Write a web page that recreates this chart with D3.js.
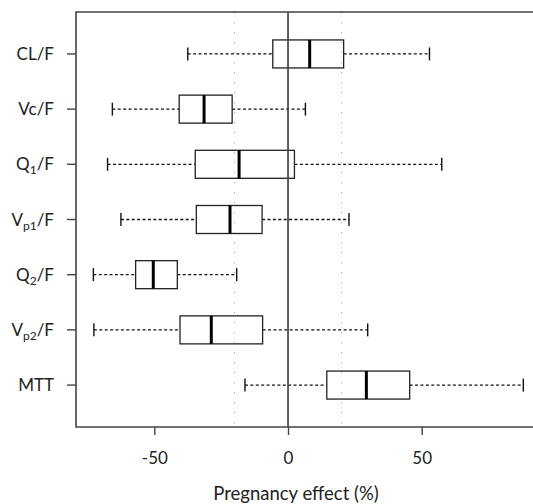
<!DOCTYPE html>
<html>
<head>
<meta charset="utf-8">
<script src="https://cdn.jsdelivr.net/npm/d3@7"></script>
<style>
  body { margin: 0; background: #fff; }
  text { font-family: Lato, "Open Sans", sans-serif; fill: #222; }
</style>
</head>
<body>
<svg id="chart"></svg>
<script>
// Parameters (top to bottom), label pieces for subscripts
const labelBase = ["CL", "Vc", "Q", "V", "Q", "V", "MTT"];
const labelSub  = ["", "", "1", "p1", "2", "p2", ""];
const labelTail = ["/F", "/F", "/F", "/F", "/F", "/F", ""];

// Box statistics, pregnancy effect (%)
const whiskerLow  = [-37.5, -65.7, -67.5, -62.5, -72.8, -72.6, -16.1];
const q1          = [-5.7, -40.7, -34.7, -34.3, -57.0, -40.4, 14.5];
const median      = [8.1, -31.4, -18.3, -21.7, -50.4, -28.7, 29.3];
const q3          = [20.8, -20.9, 2.4, -9.7, -41.4, -9.5, 45.5];
const whiskerHigh = [52.9, 6.5, 57.5, 22.8, -19.2, 29.8, 88.0];

const xTicks = [-50, 0, 50];
const refLines = [-20, 20];

const width = 533, height = 504;
const plot = {left: 76, top: 12, bottom: 427, right: 534};

const svg = d3.select("#chart")
    .attr("width", width)
    .attr("height", height);

const rows = d3.range(labelBase.length);

const x = d3.scaleLinear()
    .domain([-79.3, 92])
    .range([plot.left, plot.right]);

const y = d3.scalePoint()
    .domain(rows)
    .range([plot.top, plot.bottom])
    .padding(0.76);

const boxH = 28;
const capH = 13;

// Dotted reference lines at +/-20 %
svg.selectAll("line.ref")
    .data(refLines)
    .enter().append("line")
    .attr("class", "ref")
    .attr("x1", d => x(d)).attr("x2", d => x(d))
    .attr("y1", plot.top).attr("y2", plot.bottom)
    .style("stroke", "#9a9a9a")
    .style("stroke-width", 1)
    .style("stroke-dasharray", "1.2,8.8");

const g = svg.selectAll("g.row")
    .data(rows)
    .enter().append("g")
    .attr("class", "row")
    .attr("transform", i => "translate(0," + y(i) + ")");

// Whiskers
g.append("line")
    .attr("x1", i => x(whiskerLow[i])).attr("x2", i => x(q1[i]))
    .style("stroke", "#111").style("stroke-width", 1.3)
    .style("stroke-dasharray", "3,2.4");
g.append("line")
    .attr("x1", i => x(q3[i])).attr("x2", i => x(whiskerHigh[i]))
    .style("stroke", "#111").style("stroke-width", 1.3)
    .style("stroke-dasharray", "3,2.4");

// Staples
g.append("line")
    .attr("x1", i => x(whiskerLow[i])).attr("x2", i => x(whiskerLow[i]))
    .attr("y1", -capH / 2).attr("y2", capH / 2)
    .style("stroke", "#111").style("stroke-width", 1.4);
g.append("line")
    .attr("x1", i => x(whiskerHigh[i])).attr("x2", i => x(whiskerHigh[i]))
    .attr("y1", -capH / 2).attr("y2", capH / 2)
    .style("stroke", "#111").style("stroke-width", 1.4);

// Boxes
g.append("rect")
    .attr("x", i => x(q1[i]))
    .attr("width", i => x(q3[i]) - x(q1[i]))
    .attr("y", -boxH / 2)
    .attr("height", boxH)
    .style("fill", "#fff")
    .style("stroke", "#222")
    .style("stroke-width", 1.3);

// Medians
g.append("line")
    .attr("x1", i => x(median[i])).attr("x2", i => x(median[i]))
    .attr("y1", -boxH / 2).attr("y2", boxH / 2)
    .style("stroke", "#000").style("stroke-width", 3);

// Dotted reference lines again on top (they show through boxes)
svg.selectAll("line.ref2")
    .data(refLines)
    .enter().append("line")
    .attr("class", "ref2")
    .attr("x1", d => x(d)).attr("x2", d => x(d))
    .attr("y1", plot.top).attr("y2", plot.bottom)
    .style("stroke", "#b0b0b0")
    .style("stroke-width", 1)
    .style("stroke-dasharray", "1.2,8.8");

// Zero line
svg.append("line")
    .attr("x1", x(0)).attr("x2", x(0))
    .attr("y1", plot.top).attr("y2", plot.bottom)
    .style("stroke", "#444")
    .style("stroke-width", 1.7);

// Frame (right side runs off the picture)
svg.append("path")
    .attr("d", `M${plot.right + 10},${plot.top}H${plot.left}V${plot.bottom}H${plot.right + 10}`)
    .style("fill", "none")
    .style("stroke", "#444")
    .style("stroke-width", 1.6);

// X axis
const xAxis = svg.append("g")
    .attr("transform", "translate(0," + plot.bottom + ")")
    .call(d3.axisBottom(x).tickValues(xTicks).tickSize(8).tickPadding(17).tickFormat(d3.format("d")));
xAxis.select(".domain").remove();
xAxis.selectAll(".tick line").style("stroke", "#444").style("stroke-width", 1.4);
xAxis.selectAll(".tick text")
    .style("font-size", "17px")
    .style("font-family", "Lato, 'Open Sans', sans-serif")
    .style("fill", "#222")
    .text(d => d < 0 ? "-" + Math.abs(d) : d);

// Y axis ticks + labels with subscripts
const yAxis = svg.append("g");
yAxis.selectAll("line")
    .data(rows)
    .enter().append("line")
    .attr("x1", plot.left - 9).attr("x2", plot.left)
    .attr("y1", i => y(i)).attr("y2", i => y(i))
    .style("stroke", "#444").style("stroke-width", 1.4);

const lab = yAxis.selectAll("text")
    .data(rows)
    .enter().append("text")
    .attr("x", 54)
    .attr("y", i => y(i) + 6)
    .attr("text-anchor", "end")
    .style("font-size", "17px");
lab.append("tspan").text(i => labelBase[i]);
lab.filter(i => labelSub[i] !== "").append("tspan")
    .attr("dy", 4)
    .style("font-size", "12px")
    .text(i => labelSub[i]);
lab.append("tspan")
    .attr("dy", i => labelSub[i] !== "" ? -4 : 0)
    .text(i => labelTail[i]);

// Axis title
svg.append("text")
    .attr("x", 296)
    .attr("y", 500)
    .attr("text-anchor", "middle")
    .style("font-size", "18.5px")
    .text("Pregnancy effect (%)");
</script>
</body>
</html>
